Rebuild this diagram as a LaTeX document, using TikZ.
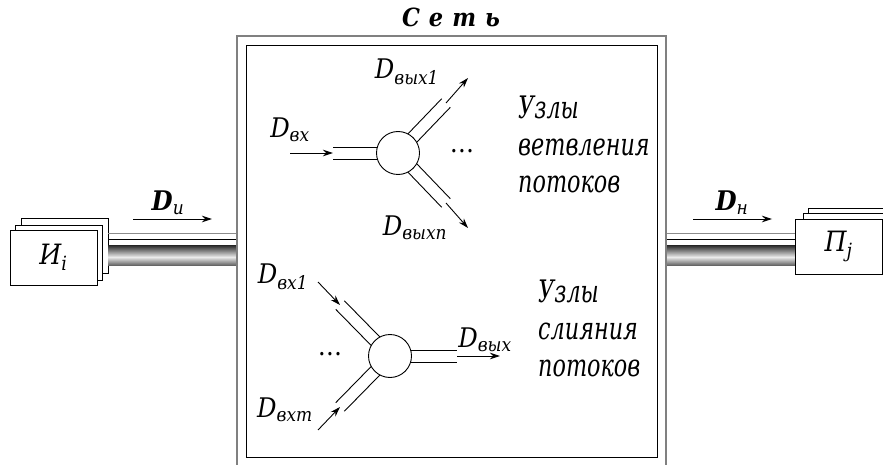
\documentclass[tikz,border=0pt]{standalone}
\usepackage{fontspec}
\setmainfont{DejaVu Serif Condensed}
\newfontfamily\notefont{DejaVu Serif Condensed}[FakeStretch=0.8]
\usetikzlibrary{arrows.meta}
\tikzstyle{flow} = [line width=0.9pt, -{Stealth[length=10pt,width=6.5pt]}]
\tikzstyle{rim} = [line width=0.9pt]
\tikzstyle{hub} = [circle, draw, fill=white, line width=0.9pt, minimum size=43pt, inner sep=0pt]
\tikzstyle{card} = [draw, fill=white, line width=0.9pt, minimum width=87pt, minimum height=55pt, inner sep=0pt]
\tikzstyle{lbl} = [font=\fontsize{27}{30}\selectfont\itshape, inner sep=0pt]
\tikzstyle{note} = [font=\notefont\fontsize{31}{37}\selectfont\itshape, align=left, anchor=north west, inner sep=0pt]

\begin{document}
\begin{tikzpicture}[x=1pt, y=-1pt]
    \useasboundingbox (0,0) rectangle (883,465);
    \coordinate (netL) at (237,0);
    \coordinate (netR) at (666,0);
    \node[font=\fontsize{25}{29}\selectfont\bfseries\itshape] (net) at (451,17) {С\hspace{9pt}е\hspace{9pt}т\hspace{9pt}ь};
    \node[card] (src3) at (64.5,245.5) {};
    \node[card] (src2) at (58.5,252.5) {};
    \node[card, font=\fontsize{28}{32}\selectfont\itshape] (src1) at (53.5,257.5) {И\textsubscript{i}};
    \begin{scope}
      \clip (0,0) rectangle (883,465);
      \node[card] (dst3) at (851.5,235.5) {};
      \node[card] (dst2) at (846.5,240.5) {};
    \end{scope}
    \node[card, font=\fontsize{28}{32}\selectfont\itshape] (dst1) at (838.5,246.5) {П\textsubscript{j}};
    \foreach \k in {0,...,20} {
      \pgfmathtruncatemacro\g{8+78*abs(\k-12)/12}
      \fill[black!\g] (src3.east |- 0,245+\k) rectangle (netL |- 0,246.3+\k);
      \fill[black!\g] (netR |- 0,245+\k) rectangle (dst1.west |- 0,246.3+\k);
    }
    \draw[black!45, rim] (src3.east |- 0,233) -- (netL |- 0,233);
    \draw[rim] (src3.east |- 0,239) -- (netL |- 0,239);
    \draw[black!45, rim] (netR |- 0,233) -- (dst1.west |- 0,233);
    \draw[rim] (netR |- 0,239) -- (dst1.west |- 0,239);
    \draw[black!50, line width=1.8pt] (237,465) -- (237,36) -- (666,36) -- (666,465);
    \draw[line width=0.9pt] (246,45) rectangle (657,457);
    \coordinate (du0) at (133,219);
    \coordinate (du1) at (212,219);
    \coordinate (dn0) at (693,219);
    \coordinate (dn1) at (772,219);
    \draw[flow] (du0) -- (du1);
    \draw[flow] (dn0) -- (dn1);
    \node[lbl] (du) at (168,203) {\textbf{D}\textsubscript{и}};
    \node[lbl] (dn) at (732,203) {\textbf{D}\textsubscript{н}};
    \coordinate (splitC) at (398,153);
    \coordinate (splitIn) at (333,153);
    \coordinate (splitInA) at (290,153);
    \coordinate (splitOut1) at (446,103);
    \coordinate (splitOut1A) at (468,78);
    \coordinate (splitOutN) at (446,203);
    \coordinate (splitOutNA) at (468,228);
    \draw[rim] ([shift={(0,6)}]splitC) -- ([shift={(0,6)}]splitIn);
    \draw[rim] ([shift={(0,-6)}]splitC) -- ([shift={(0,-6)}]splitIn);
    \draw[rim] ([shift={(4.3,4.3)}]splitC) -- ([shift={(4.3,4.3)}]splitOut1);
    \draw[rim] ([shift={(-4.3,-4.3)}]splitC) -- ([shift={(-4.3,-4.3)}]splitOut1);
    \draw[rim] ([shift={(4.3,-4.3)}]splitC) -- ([shift={(4.3,-4.3)}]splitOutN);
    \draw[rim] ([shift={(-4.3,4.3)}]splitC) -- ([shift={(-4.3,4.3)}]splitOutN);
    \node[hub] (split) at (splitC) {};
    \draw[flow] (splitInA) -- (splitIn);
    \draw[flow] (splitOut1) -- (splitOut1A);
    \draw[flow] (splitOutN) -- (splitOutNA);
    \node[lbl] (dvx) at (290,130) {D\textsubscript{вх}};
    \node[lbl] (dvyx1) at (407,72) {D\textsubscript{вых1}};
    \node[lbl] (dvyxn) at (415,228) {D\textsubscript{выхn}};
    \node[font=\fontsize{27}{30}\selectfont] (splitDots) at (462,151) {\dots};
    \node[note] (splitNote) at (518,96) {Узлы\\ветвления\\потоков};
    \coordinate (mergeC) at (390,356);
    \coordinate (mergeOut) at (457,356);
    \coordinate (mergeOutA) at (500,356);
    \coordinate (mergeIn1) at (340,305);
    \coordinate (mergeIn1A) at (318,282);
    \coordinate (mergeInM) at (340,407);
    \coordinate (mergeInMA) at (318,430);
    \draw[rim] ([shift={(0,6)}]mergeC) -- ([shift={(0,6)}]mergeOut);
    \draw[rim] ([shift={(0,-6)}]mergeC) -- ([shift={(0,-6)}]mergeOut);
    \draw[rim] ([shift={(4.3,-4.3)}]mergeC) -- ([shift={(4.3,-4.3)}]mergeIn1);
    \draw[rim] ([shift={(-4.3,4.3)}]mergeC) -- ([shift={(-4.3,4.3)}]mergeIn1);
    \draw[rim] ([shift={(4.3,4.3)}]mergeC) -- ([shift={(4.3,4.3)}]mergeInM);
    \draw[rim] ([shift={(-4.3,-4.3)}]mergeC) -- ([shift={(-4.3,-4.3)}]mergeInM);
    \node[hub] (merge) at (mergeC) {};
    \draw[flow] (mergeOut) -- (mergeOutA);
    \draw[flow] (mergeIn1A) -- (mergeIn1);
    \draw[flow] (mergeInMA) -- (mergeInM);
    \node[lbl] (dvx1) at (283,277) {D\textsubscript{вх1}};
    \node[lbl] (dvxm) at (285,410) {D\textsubscript{вхm}};
    \node[lbl] (dvyx) at (485,340) {D\textsubscript{вых}};
    \node[font=\fontsize{27}{30}\selectfont] (mergeDots) at (330,354) {\dots};
    \node[note] (mergeNote) at (538,280) {Узлы\\слияния\\потоков};
\end{tikzpicture}
\end{document}
